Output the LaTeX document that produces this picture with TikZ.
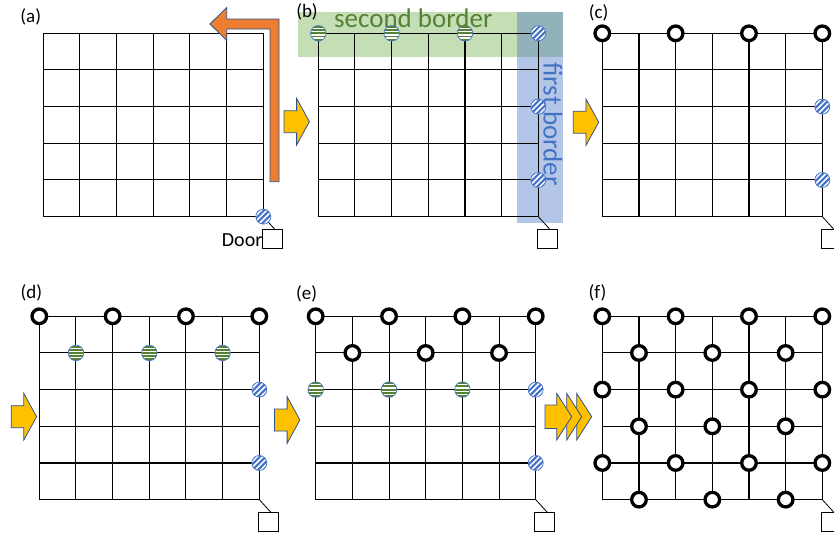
\documentclass[tikz,border=0pt]{standalone}
\usepackage{fontspec}
\setmainfont{Carlito}
\usetikzlibrary{calc}
\definecolor{shapeblue}{HTML}{2F528F}
\definecolor{hatchblue}{HTML}{4472C4}
\definecolor{stripegreen}{HTML}{548235}
\definecolor{arroworange}{HTML}{ED7D31}
\definecolor{arrowyellow}{HTML}{FFC000}
\definecolor{bandgreen}{HTML}{70AD47}
\definecolor{bandblue}{HTML}{4472C4}
\tikzset{
 gridline/.style={line width=1.05pt, black, line cap=rect},
 doorline/.style={line width=0.8pt, black},
 blackpt/.style={circle, draw=black, line width=3.3pt, fill=white, minimum size=14.6pt, inner sep=0pt},
 hatchpt/.style={circle, draw=hatchblue, line width=0.7pt, fill=white, minimum size=15pt, inner sep=0pt,
   path picture={\foreach \k in {-3,...,3}{\draw[hatchblue, line width=2.1pt] ($(path picture bounding box.center)+(\k*5.6pt-12pt,-12pt)$) -- ++(24pt,24pt);}}},
 greenpt/.style={circle, draw=hatchblue, line width=0.7pt, fill=white, minimum size=15.5pt, inner sep=0pt,
   path picture={\foreach \k in {-3,...,3}{\draw[stripegreen, line width=1.9pt] ($(path picture bounding box.center)+(-10pt,\k*3.2pt)$) -- ++(20pt,0pt);}}},
 doorbox/.style={draw=black, line width=0.8pt, fill=white, minimum width=20pt, minimum height=19pt, inner sep=0pt, anchor=north west},
 panellabel/.style={font=\fontsize{19}{22}\selectfont, inner sep=0pt},
 doortext/.style={font=\fontsize{20}{24}\selectfont, inner sep=0pt},
 bandtext/.style={font=\fontsize{27}{32}\selectfont, inner sep=0pt},
 blockarrow/.style={fill=arrowyellow, draw=shapeblue, line width=0.8pt, line join=miter},
 bentarrow/.style={fill=arroworange, draw=shapeblue, line width=0.8pt, line join=miter},
}
\newcommand\gridpanel[3]{%
 \begin{scope}[shift={(#2,#3)}]
  \foreach \i in {0,...,6} {\draw[gridline] (\i*36.667,0) -- (\i*36.667,183.333);}
  \foreach \j in {0,...,5} {\draw[gridline] (0,\j*36.667) -- (220,\j*36.667);}
  \foreach \i in {0,...,6} {\foreach \j in {0,...,5} {\coordinate (#1-\i-\j) at (\i*36.667,\j*36.667);}}
  \node[doorbox] (#1-door) at ($(#1-6-5)+(-1.5,12.5)$) {};
  \draw[doorline] (#1-6-5) -- ($(#1-door.north)+(2.5,0)$);
 \end{scope}}
\newcommand\yellowarrow[2]{%
 \begin{scope}[shift={(#1,#2)}]
  \draw[blockarrow] (0,-11) -- (12.6,-11) -- (12.6,-23.3) -- (25.4,0) -- (12.6,23.3) -- (12.6,11) -- (0,11) -- cycle;
 \end{scope}}
\begin{document}
\begin{tikzpicture}[x=1pt,y=-1pt]
\useasboundingbox (0,0) rectangle (834,533);
\fill[white] (0,0) rectangle (834,533);

% border bands of (b)
\fill[bandgreen, fill opacity=0.4] (298.3,12.3) rectangle (562.7,56.7);
\fill[bandblue, fill opacity=0.4] (516.7,12.3) rectangle (562.7,222.7);

% grids
\gridpanel{a}{43.3}{33.3}
\gridpanel{b}{318.3}{33.3}
\gridpanel{c}{602.3}{33.3}
\gridpanel{d}{39.3}{316.3}
\gridpanel{e}{315.7}{316.3}
\gridpanel{f}{602.3}{316.3}

% (a)
\node[hatchpt] (a-h) at (a-6-5) {};
\node[doortext, anchor=base east] (doorlabel) at (262.5,246.7) {Door};
\draw[bentarrow] (210,24) -- (226.7,7.5) -- (226.7,19) -- (279,19) -- (279,181.7) -- (270,181.7) -- (270,29) -- (226.7,29) -- (226.7,40.5) -- cycle;

% (b)
\foreach \i in {0,2,4} {\node[greenpt] (b-g\i) at (b-\i-0) {};}
\foreach \j in {0,2,4} {\node[hatchpt] (b-h\j) at (b-6-\j) {};}
\node[bandtext, text=stripegreen, anchor=base] (secondlabel) at (413.3,27.3) {second border};
\node[bandtext, text=hatchblue, anchor=base, rotate=-90] (firstlabel) at (543.5,124.2) {first border};

% (c)
\foreach \i in {0,2,4,6} {\node[blackpt] (c-k\i) at (c-\i-0) {};}
\foreach \j in {2,4} {\node[hatchpt] (c-h\j) at (c-6-\j) {};}

% (d)
\foreach \i in {0,2,4,6} {\node[blackpt] (d-k\i) at (d-\i-0) {};}
\foreach \i in {1,3,5} {\node[greenpt] (d-g\i) at (d-\i-1) {};}
\foreach \j in {2,4} {\node[hatchpt] (d-h\j) at (d-6-\j) {};}

% (e)
\foreach \i in {0,2,4,6} {\node[blackpt] (e-k\i) at (e-\i-0) {};}
\foreach \i in {1,3,5} {\node[blackpt] (e-m\i) at (e-\i-1) {};}
\foreach \i in {0,2,4} {\node[greenpt] (e-g\i) at (e-\i-2) {};}
\foreach \j in {2,4} {\node[hatchpt] (e-h\j) at (e-6-\j) {};}

% (f)
\foreach \j in {0,2,4} {\foreach \i in {0,2,4,6} {\node[blackpt] (f-k\i\j) at (f-\i-\j) {};}}
\foreach \j in {1,3,5} {\foreach \i in {1,3,5} {\node[blackpt] (f-k\i\j) at (f-\i-\j) {};}}

% labels
\node[panellabel] (la) at (30.8,16.7) {(a)};
\node[panellabel] (lb) at (307,11.5) {(b)};
\node[panellabel] (lc) at (598.7,13.3) {(c)};
\node[panellabel] (ld) at (31.3,293) {(d)};
\node[panellabel] (le) at (306.7,293.5) {(e)};
\node[panellabel] (lf) at (597.5,293) {(f)};

% yellow arrows
\yellowarrow{284}{121.7}
\yellowarrow{573.3}{122.2}
\yellowarrow{11.2}{416.7}
\yellowarrow{274.5}{420}

% triple arrow
\draw[blockarrow] (576.7,393.4) -- (591.7,416.7) -- (576.7,440) -- cycle;
\draw[blockarrow] (566.7,393.4) -- (581.7,416.7) -- (566.7,440) -- cycle;
\draw[blockarrow] (545,405) -- (556.7,405) -- (556.7,393.4) -- (571.7,416.7) -- (556.7,440) -- (556.7,428.4) -- (545,428.4) -- cycle;
\end{tikzpicture}
\end{document}
